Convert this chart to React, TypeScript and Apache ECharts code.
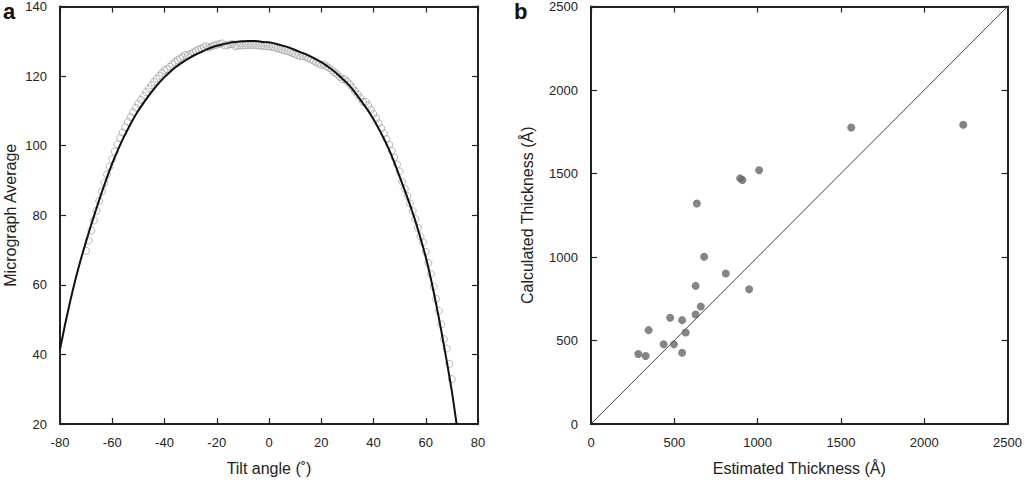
import React, { useEffect, useRef } from "react";
import * as echarts from "echarts";

// Panel a: measured micrograph averages (open circles) vs tilt angle
const tiltAngles = [
  -70, -69, -68, -67, -66, -65, -64, -63, -62, -61, -60, -59, -58, -57, -56, -55, -54, -53, -52, -51,
  -50, -49, -48, -47, -46, -45, -44, -43, -42, -41, -40, -39, -38, -37, -36, -35, -34, -33, -32, -31,
  -30, -29, -28, -27, -26, -25, -24, -23, -22, -21, -20, -19, -18, -17, -16, -15, -14, -13, -12, -11,
  -10, -9, -8, -7, -6, -5, -4, -3, -2, -1, 0, 1, 2, 3, 4, 5, 6, 7, 8, 9,
  10, 11, 12, 13, 14, 15, 16, 17, 18, 19, 20, 21, 22, 23, 24, 25, 26, 27, 28, 29,
  30, 31, 32, 33, 34, 35, 36, 37, 38, 39, 40, 41, 42, 43, 44, 45, 46, 47, 48, 49,
  50, 51, 52, 53, 54, 55, 56, 57, 58, 59, 60, 61, 62, 63, 64, 65, 66, 67, 68, 69, 70,
];
const micrographAverage = [
  69.8, 72.7, 75.6, 78.5, 81.3, 84.1, 86.8, 89.3, 91.7, 94.0, 96.2, 98.3, 100.4, 102.2, 103.8, 105.3, 106.8, 108.2, 109.6, 110.9,
  112.1, 113.2, 114.3, 115.4, 116.4, 117.4, 118.3, 119.2, 120.1, 120.9, 121.7, 122.0, 122.7, 123.4, 124.0, 124.6, 125.1, 125.6, 126.1, 126.0,
  126.4, 126.8, 127.2, 127.6, 127.9, 128.3, 128.6, 128.2, 128.5, 128.8, 129.0, 129.2, 129.4, 128.8, 128.9, 129.1, 129.2, 128.6, 128.7, 128.8,
  128.8, 128.9, 128.9, 128.9, 128.9, 128.9, 128.8, 128.7, 128.6, 128.6, 128.5, 128.4, 128.2, 128.0, 127.8, 127.6, 127.4, 127.2, 126.9, 126.6,
  126.3, 126.0, 125.7, 125.8, 125.5, 125.2, 124.8, 124.4, 124.0, 123.6, 123.2, 123.3, 122.8, 122.3, 121.7, 121.1, 120.5, 119.8, 119.1, 119.1,
  118.4, 117.6, 116.7, 115.7, 114.7, 113.7, 112.6, 112.6, 111.5, 110.3, 109.1, 107.8, 106.4, 105.0, 103.5, 101.9, 100.3, 98.5, 96.6, 94.6,
  92.6, 89.6, 87.6, 85.5, 83.4, 81.2, 78.9, 76.4, 73.9, 72.2, 69.5, 66.3, 63.1, 59.5, 55.9, 52.5, 48.6, 44.4, 41.7, 37.3, 32.9,
];

// Panel a: fitted curve (solid black line)
const fitAngles = [
  -80, -78, -76, -74, -72, -70, -68, -66, -64, -62, -60, -58, -56, -54, -52, -50, -48, -46, -44, -42,
  -40, -38, -36, -34, -32, -30, -28, -26, -24, -22, -20, -18, -16, -14, -12, -10, -8, -6, -4, -2,
  0, 2, 4, 6, 8, 10, 12, 14, 16, 18, 20, 22, 24, 26, 28, 30, 32, 34, 36, 38,
  40, 42, 44, 46, 48, 50, 52, 54, 56, 58, 60, 62, 64, 66, 68, 70, 71.8,
];
const fitValues = [
  41.5, 48.8, 55.6, 61.8, 67.4, 72.5, 77.4, 82.1, 86.6, 90.9, 94.9, 98.5, 101.8, 104.8, 107.6, 110.1, 112.3, 114.4, 116.3, 118.1,
  119.7, 121.1, 122.4, 123.5, 124.5, 125.4, 126.2, 126.9, 127.6, 128.2, 128.7, 129.1, 129.4, 129.7, 129.9, 130, 130.1, 130.1, 130, 129.8,
  129.7, 129.4, 129.0, 128.6, 128.1, 127.5, 126.9, 126.3, 125.6, 124.8, 124, 123, 121.9, 120.7, 119.3, 117.9, 116.2, 114.2, 112.1, 110,
  107.6, 104.9, 102, 98.8, 95.1, 91.1, 87.1, 82.9, 78.4, 73.4, 68, 61.6, 54.4, 46.6, 38.2, 29.4, 20,
];

// Panel b: estimated vs calculated thickness (Å)
const estimatedThickness = [
  2234, 1562, 1009, 895, 909, 635, 679, 809, 628, 949, 659, 475, 547, 628, 346, 568, 436, 498, 284, 328, 547,
];
const calculatedThickness = [
  1792, 1775, 1519, 1471, 1461, 1320, 1001, 901, 827, 807, 704, 636, 622, 656, 562, 548, 478, 477, 419, 407, 427,
];
const identityLine = [0, 2500];

const FONT = "'Liberation Sans', Arial, Helvetica, sans-serif";

export default function App() {
  const ref = useRef<HTMLDivElement>(null);

  useEffect(() => {
    if (!ref.current) return;
    const chart = echarts.init(ref.current, null, { renderer: "svg" });

    const frameLine = { show: true, onZero: false, lineStyle: { color: "#222", width: 2 } };
    const tick = { show: true, inside: true, length: 6, lineStyle: { color: "#222", width: 1.2 } };
    const label = {
      color: "#222",
      fontSize: 13,
      fontFamily: FONT,
      formatter: (v: number) => String(v),
    };
    const nameStyle = { color: "#222", fontSize: 16, fontFamily: FONT };

    const mainX = (grid: number, min: number, max: number, interval: number, name: string, gap: number) => ({
      type: "value",
      gridIndex: grid,
      min,
      max,
      interval,
      position: "bottom",
      axisLine: frameLine,
      axisTick: tick,
      axisLabel: { ...label, margin: 12 },
      splitLine: { show: false },
      name,
      nameLocation: "middle",
      nameGap: gap,
      nameTextStyle: nameStyle,
    });
    const sideX = (grid: number, min: number, max: number, interval: number) => ({
      type: "value",
      gridIndex: grid,
      min,
      max,
      interval,
      position: "top",
      axisLine: frameLine,
      axisTick: tick,
      axisLabel: { show: false },
      splitLine: { show: false },
    });
    const mainY = (grid: number, min: number, max: number, interval: number, name: string, gap: number) => ({
      type: "value",
      gridIndex: grid,
      min,
      max,
      interval,
      position: "left",
      axisLine: frameLine,
      axisTick: tick,
      axisLabel: { ...label, margin: 13 },
      splitLine: { show: false },
      name,
      nameLocation: "middle",
      nameGap: gap,
      nameRotate: 90,
      nameTextStyle: nameStyle,
    });
    const sideY = (grid: number, min: number, max: number, interval: number) => ({
      type: "value",
      gridIndex: grid,
      min,
      max,
      interval,
      position: "right",
      axisLine: frameLine,
      axisTick: tick,
      axisLabel: { show: false },
      splitLine: { show: false },
    });

    chart.setOption({
      animation: false,
      backgroundColor: "#ffffff",
      textStyle: { fontFamily: FONT },
      grid: [
        { left: 60, top: 6, width: 418, height: 418 },
        { left: 591, top: 6, width: 417, height: 418 },
      ],
      xAxis: [
        mainX(0, -80, 80, 20, "Tilt angle (˚)", 36),
        sideX(0, -80, 80, 20),
        mainX(1, 0, 2500, 500, "Estimated Thickness (Å)", 36),
        sideX(1, 0, 2500, 500),
      ],
      yAxis: [
        mainY(0, 20, 140, 20, "Micrograph Average", 42),
        sideY(0, 20, 140, 20),
        mainY(1, 0, 2500, 500, "Calculated Thickness (Å)", 56),
        sideY(1, 0, 2500, 500),
      ],
      graphic: [
        { type: "text", left: 3, top: 0, style: { text: "a", font: `bold 22px ${FONT}`, fill: "#111" } },
        { type: "text", left: 514, top: 0, style: { text: "b", font: `bold 22px ${FONT}`, fill: "#111" } },
      ],
      series: [
        {
          type: "scatter",
          xAxisIndex: 0,
          yAxisIndex: 0,
          symbol: "circle",
          symbolSize: 7,
          itemStyle: { color: "rgba(255,255,255,0)", borderColor: "#9a9a9a", borderWidth: 0.9 },
          data: tiltAngles.map((t, i) => [t, micrographAverage[i]]),
          z: 2,
        },
        {
          type: "line",
          xAxisIndex: 0,
          yAxisIndex: 0,
          showSymbol: false,
          smooth: 0.2,
          lineStyle: { color: "#111", width: 2 },
          data: fitAngles.map((t, i) => [t, fitValues[i]]),
          z: 3,
        },
        {
          type: "line",
          xAxisIndex: 2,
          yAxisIndex: 2,
          showSymbol: false,
          lineStyle: { color: "#444", width: 1 },
          data: identityLine.map((v) => [v, v]),
          z: 2,
        },
        {
          type: "scatter",
          xAxisIndex: 2,
          yAxisIndex: 2,
          symbol: "circle",
          symbolSize: 8,
          itemStyle: { color: "#666666" },
          data: estimatedThickness.map((e, i) => [e, calculatedThickness[i]]),
          z: 3,
        },
      ],
    });

    return () => chart.dispose();
  }, []);

  return (
    <div
      ref={ref}
      style={{ position: "fixed", left: 0, top: 0, width: 1025, height: 482, background: "#fff" }}
    />
  );
}
